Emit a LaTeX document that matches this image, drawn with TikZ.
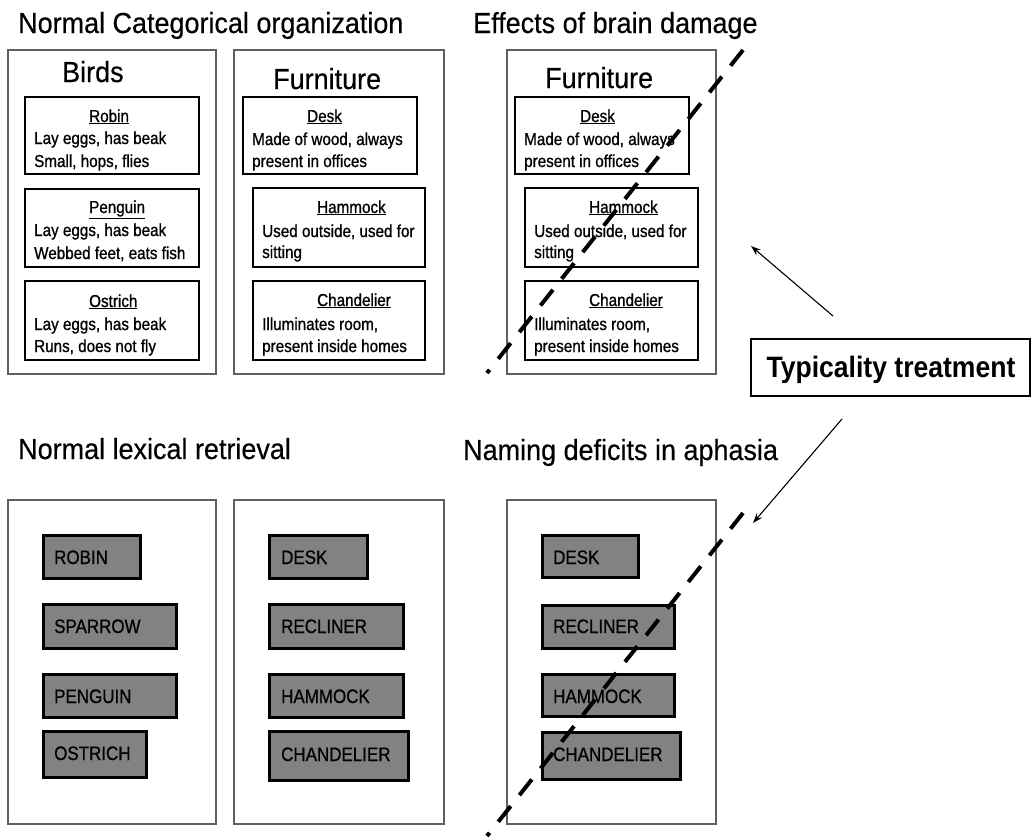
\documentclass[tikz,border=0pt]{standalone}
\usepackage{fontspec}
\setmainfont{Liberation Sans}
\newfontfamily\fbig{Liberation Sans}[FakeStretch=0.93, FakeBold=0.4]
\newfontfamily\fsmall{Liberation Sans}[FakeStretch=0.88, FakeBold=0.9]
\newfontfamily\fgray{Liberation Sans}[FakeStretch=0.87, FakeBold=0.7]
\newfontfamily\fbold{Liberation Sans}[FakeStretch=0.9]
\usetikzlibrary{arrows.meta}
\definecolor{gfill}{RGB}{130,130,130}
\definecolor{pline}{RGB}{95,95,95}
\begin{document}
\begin{tikzpicture}[x=1pt,y=-1pt,
  ttl/.style={font=\fbig\fontsize{29}{33}\selectfont, anchor=base west, inner sep=0pt},
  cat/.style={font=\fbig\fontsize{29}{33}\selectfont, anchor=base west, inner sep=0pt},
  txt/.style={font=\fsmall\fontsize{17.3}{20}\selectfont, anchor=base west, inner sep=0pt},
  gtxt/.style={font=\fgray\fontsize{19.5}{22}\selectfont, anchor=base west, inner sep=0pt},
  panel/.style={draw=pline, line width=1.8pt, anchor=north west, inner sep=0pt},
  ibox/.style={draw=black, line width=1.8pt, anchor=north west, inner sep=0pt},
  gbox/.style={draw=black, line width=3.2pt, fill=gfill, anchor=north west, inner sep=0pt},
  tbox/.style={draw=black, line width=1.6pt, fill=white, inner sep=0pt},
  arr/.style={draw=black, line width=1.1pt, -{Stealth[length=10pt,width=7pt]}},
  dashln/.style={draw=black, line width=4pt, dash pattern=on 20pt off 14pt}
]
\useasboundingbox (0,0) rectangle (1031,836);

% ---------- titles ----------
\node[ttl] (t1) at (18,33) {Normal Categorical organization};
\node[ttl] (t2) at (473,33) {Effects of brain damage};
\node[ttl] (t3) at (18,459) {Normal lexical retrieval};
\node[ttl] (t4) at (463,460) {Naming deficits in aphasia};

% ---------- top panels ----------
\node[panel, minimum width=208, minimum height=324] (pBirds) at (7,49) {};
\node[panel, minimum width=210, minimum height=324] (pFurn) at (233,49) {};
\node[panel, minimum width=209, minimum height=324] (pDam) at (506,49) {};

\node[cat] (cBirds) at (62,82) {Birds};
\node[cat] (cFurn) at (273,89) {Furniture};
\node[cat] (cDam) at (545,88) {Furniture};

% birds
\node[ibox, minimum width=174, minimum height=77] (bRobin) at (24,96) {};
\node[ibox, minimum width=174, minimum height=78] (bPeng) at (24,188) {};
\node[ibox, minimum width=174, minimum height=79] (bOstr) at (24,280) {};
\node[txt] (lRobin) at (89,122) {\underline{Robin}};
\node[txt] (r1) at (34,144) {Lay eggs, has beak};
\node[txt] (r2) at (34,167) {Small, hops, flies};
\node[txt] (lPeng) at (89,213) {\underline{Penguin}};
\node[txt] (p1) at (34,236) {Lay eggs, has beak};
\node[txt] (p2) at (34,259) {Webbed feet, eats fish};
\node[txt] (lOstr) at (89,307) {\underline{Ostrich}};
\node[txt] (o1) at (34,330) {Lay eggs, has beak};
\node[txt] (o2) at (34,352) {Runs, does not fly};

% furniture (normal)
\node[ibox, minimum width=174, minimum height=77] (fDesk) at (242,96) {};
\node[ibox, minimum width=172, minimum height=79] (fHam) at (252,187) {};
\node[ibox, minimum width=172, minimum height=79] (fChan) at (252,280) {};
\node[txt] (lDesk) at (307,122) {\underline{Desk}};
\node[txt] (d1) at (252,145) {Made of wood, always};
\node[txt] (d2) at (252,167) {present in offices};
\node[txt] (lHam) at (317,213) {\underline{Hammock}};
\node[txt] (h1) at (262,237) {Used outside, used for};
\node[txt] (h2) at (262,258) {sitting};
\node[txt] (lChan) at (317,306) {\underline{Chandelier}};
\node[txt] (c1) at (262,330) {Illuminates room,};
\node[txt] (c2) at (262,352) {present inside homes};

% furniture (brain damage)
\node[ibox, minimum width=174, minimum height=77] (dDesk) at (514,96) {};
\node[ibox, minimum width=173, minimum height=79] (dHam) at (524,187) {};
\node[ibox, minimum width=173, minimum height=79] (dChan) at (524,280) {};
\node[txt] (ldDesk) at (580,122) {\underline{Desk}};
\node[txt] (dd1) at (524,145) {Made of wood, always};
\node[txt] (dd2) at (524,167) {present in offices};
\node[txt] (ldHam) at (589,213) {\underline{Hammock}};
\node[txt] (dh1) at (534,237) {Used outside, used for};
\node[txt] (dh2) at (534,258) {sitting};
\node[txt] (ldChan) at (589,306) {\underline{Chandelier}};
\node[txt] (dc1) at (534,330) {Illuminates room,};
\node[txt] (dc2) at (534,352) {present inside homes};

% ---------- bottom panels ----------
\node[panel, minimum width=208, minimum height=324] (qBirds) at (7,499) {};
\node[panel, minimum width=210, minimum height=324] (qFurn) at (233,499) {};
\node[panel, minimum width=209, minimum height=324] (qAph) at (506,499) {};

% birds words
\node[gbox, minimum width=97, minimum height=43] (gRobin) at (42,534) {};
\node[gbox, minimum width=133, minimum height=44] (gSparrow) at (42,603) {};
\node[gbox, minimum width=133, minimum height=43] (gPenguin) at (42,673) {};
\node[gbox, minimum width=103, minimum height=46] (gOstrich) at (42,730) {};
\node[gtxt] (wRobin) at (54,564) {ROBIN};
\node[gtxt] (wSparrow) at (54,633) {SPARROW};
\node[gtxt] (wPenguin) at (54,703) {PENGUIN};
\node[gtxt] (wOstrich) at (54,760) {OSTRICH};

% furniture words
\node[gbox, minimum width=98, minimum height=43] (gDesk) at (268,534) {};
\node[gbox, minimum width=134, minimum height=44] (gRecl) at (268,603) {};
\node[gbox, minimum width=134, minimum height=43] (gHam) at (268,673) {};
\node[gbox, minimum width=139, minimum height=49] (gChan) at (268,730) {};
\node[gtxt] (wDesk) at (281,564) {DESK};
\node[gtxt] (wRecl) at (281,633) {RECLINER};
\node[gtxt] (wHam) at (281,703) {HAMMOCK};
\node[gtxt] (wChan) at (281,761) {CHANDELIER};

% aphasia words
\node[gbox, minimum width=96, minimum height=42] (aDesk) at (541,534) {};
\node[gbox, minimum width=132, minimum height=43] (aRecl) at (541,604) {};
\node[gbox, minimum width=132, minimum height=42] (aHam) at (541,673) {};
\node[gbox, minimum width=138, minimum height=47] (aChan) at (541,731) {};
\node[gtxt] (xDesk) at (553,564) {DESK};
\node[gtxt] (xRecl) at (553,633) {RECLINER};
\node[gtxt] (xHam) at (553,703) {HAMMOCK};
\node[gtxt] (xChan) at (553,761) {CHANDELIER};

% ---------- typicality treatment ----------
\node[tbox, minimum width=279, minimum height=57, anchor=north west] (tt) at (750,338) {};
\node[font=\fbold\bfseries\fontsize{29.5}{33}\selectfont, anchor=base, inner sep=0pt] (ttText) at (891,377) {Typicality treatment};

\coordinate (up0) at (833,316);
\coordinate (up1) at (751,246);
\coordinate (dn0) at (842,419);
\coordinate (dn1) at (753,523);
\draw[arr] (up0) -- (up1);
\draw[arr] (dn0) -- (dn1);

% ---------- lesion lines ----------
\coordinate (L1a) at (743,50);
\coordinate (L1b) at (487,373);
\coordinate (L2a) at (743,513);
\coordinate (L2b) at (487,836);
\draw[dashln] (L1a) -- (L1b);
\draw[dashln] (L2a) -- (L2b);
\end{tikzpicture}
\end{document}
